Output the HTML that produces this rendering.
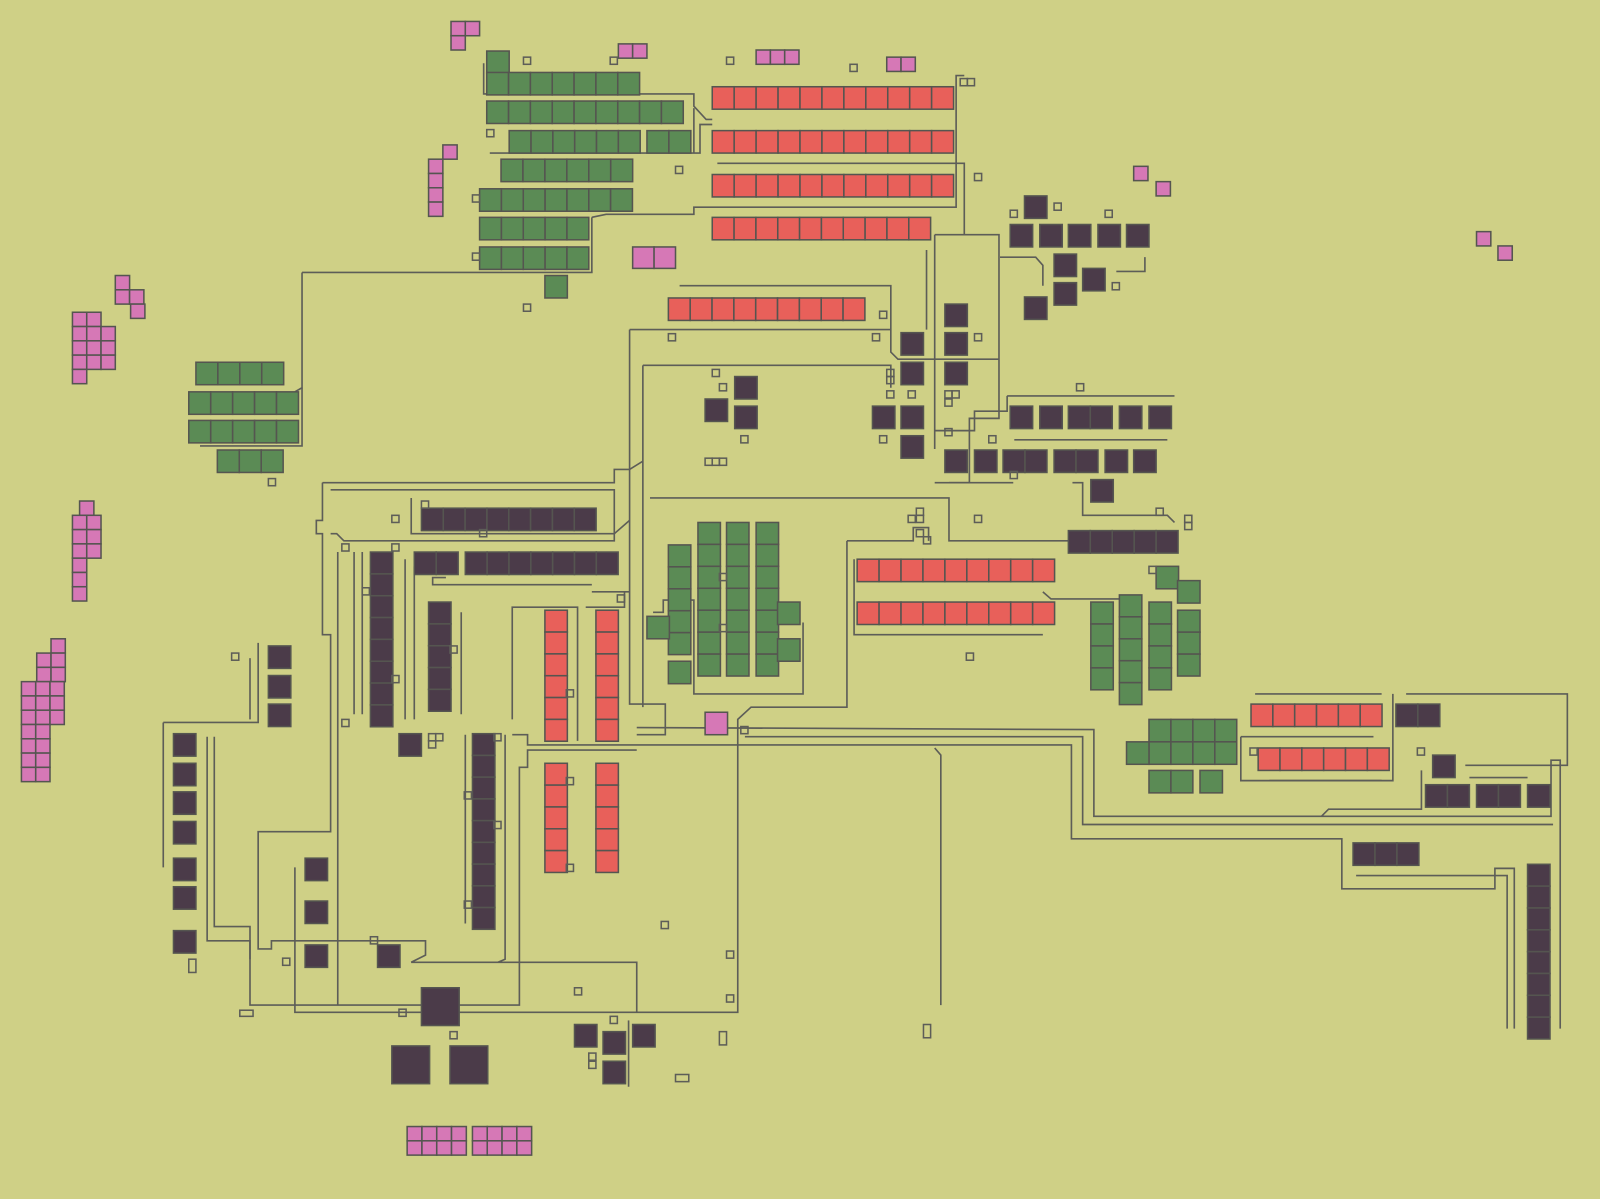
<!DOCTYPE html>
<html><head><meta charset="utf-8"><style>
html,body{margin:0;padding:0;background:#cfd086;}
svg{display:block}
</style></head><body>
<svg id="s" xmlns="http://www.w3.org/2000/svg" width="1600" height="1199" viewBox="0 0 1568 1175">
<rect width="1568" height="1175" fill="#cfd086"/>
<g id="w" fill="none" stroke="#5d5d58" stroke-width="1.6">
<polyline points="296,267 580,267 580,213"/>
<polyline points="296,267 296,380 289,384"/>
<polyline points="296,380 296,437 196,437"/>
<polyline points="474,62 474,92 680,92 680,104 692,117 698,117"/>
<polyline points="680,150 680,106"/>
<polyline points="480,150 686,150 686,122 698,122"/>
<polyline points="580,213 594,210 680,210 680,203 937,203 937,74 945,74"/>
<polyline points="703,160 945,160 945,230"/>
<polyline points="916,230 979,230 979,410 950,410 950,473 916,473"/>
<polyline points="916,230 916,440"/>
<polyline points="908,245 908,323"/>
<polyline points="666,280 873,280 873,345 880,352 979,352"/>
<polyline points="617,323 873,323"/>
<polyline points="617,323 617,690 652,690 652,720 624,720"/>
<polyline points="630,358 873,358 873,380"/>
<polyline points="630,358 630,693"/>
<polyline points="637,488 930,488 930,530 1047,530"/>
<polyline points="930,473 993,473"/>
<polyline points="830,530 830,693 736,693 723,705 723,992 289,992 289,850"/>
<polyline points="830,530 895,530 895,517 910,517 910,530"/>
<polyline points="316,473 602,473 602,460 617,460 630,452"/>
<polyline points="316,473 316,510 310,510 310,523 316,523 316,622 324,622 324,815 253,815 253,930 266,930 266,922 417,922 417,936 403,943 624,943 624,992"/>
<polyline points="324,480 602,480 602,530 337,530 330,523 324,523"/>
<polyline points="403,488 403,523 602,523 617,510"/>
<polyline points="160,708 253,708 253,630"/>
<polyline points="160,708 160,850"/>
<polyline points="203,722 203,922 245,922 245,985 509,985 509,752 517,752 517,735 624,735"/>
<polyline points="210,722 210,908 245,908 245,940"/>
<polyline points="502,705 502,595 566,595 566,726"/>
<polyline points="574,595 612,595 612,580"/>
<polyline points="580,580 617,580"/>
<polyline points="502,720 517,720 517,730 1050,730 1050,822 1315,822 1315,871 1465,871 1465,851 1484,851 1484,1008"/>
<polyline points="624,713 1072,715 1072,800 1520,800 1520,745 1529,745 1529,1008"/>
<polyline points="730,722 1061,722 1061,808 1522,808"/>
<polyline points="916,733 922,740 922,985"/>
<polyline points="1378,680 1536,680 1536,750 1436,750"/>
<polyline points="1295,800 1302,793 1393,793 1393,755"/>
<polyline points="1216,722 1216,765 1365,765 1365,680"/>
<polyline points="1329,858 1477,858 1477,1008"/>
<polyline points="1022,580 1030,587 1097,587"/>
<polyline points="837,548 837,622 1022,622"/>
<polyline points="987,388 1151,388"/>
<polyline points="987,388 987,403 955,403 955,422 916,422"/>
<polyline points="994,431 1144,431"/>
<polyline points="1051,473 1061,473 1061,505 1144,505 1151,512"/>
<polyline points="980,252 1015,252 1022,260 1022,280"/>
<polyline points="1094,266 1122,266 1122,252"/>
<polyline points="640,600 650,600 650,588 680,588 680,680 787,680 787,610"/>
<polyline points="347,541 347,700"/>
<polyline points="355,541 355,700"/>
<polyline points="397,548 397,705"/>
<polyline points="406,555 406,705"/>
<polyline points="452,600 452,700"/>
<polyline points="456,720 456,905"/>
<polyline points="495,720 495,940 488,943"/>
<polyline points="331,541 331,985"/>
<polyline points="245,645 245,705"/>
<polyline points="437,566 424,566 424,573 580,573"/>
<polyline points="1230,680 1354,680"/>
<polyline points="1244,765 1354,765"/>
<polyline points="1216,722 1346,722"/>
<polyline points="1497,762 1440,762"/>
<polyline points="616,1000 616,1065"/>
</g>
<g id="c"></g>
<g id="b" fill="none" stroke="#5d5d58" stroke-width="1.5"></g>
</svg>
<script>
var NS="http://www.w3.org/2000/svg",C=document.getElementById('c'),B=document.getElementById('b');
var G="#5b8b55",R="#e8605a",D="#4b3b49",P="#d678b6";
function r(x,y,w,h,f){var e=document.createElementNS(NS,'rect');e.setAttribute('x',x);e.setAttribute('y',y);e.setAttribute('width',w);e.setAttribute('height',h);e.setAttribute('fill',f);e.setAttribute('stroke','#555550');e.setAttribute('stroke-width','1.5');C.appendChild(e);}
function row(x,y,n,w,h,f){for(var i=0;i<n;i++)r(x+i*w,y,w,h,f);}
function col(x,y,n,w,h,f){for(var i=0;i<n;i++)r(x,y+i*h,w,h,f);}
// green top
r(477,50,22,22,G);row(477,71,7,21.4,22,G);row(477,99,9,21.4,22,G);row(499,128,6,21.4,22,G);row(634,128,2,21.5,22,G);
row(491,156,6,21.5,22,G);row(470,185,7,21.4,22,G);row(470,213,5,21.4,22,G);row(470,242,5,21.4,22,G);r(534,270,22,22,G);
// red top
row(698,85,11,21.5,22,R);row(698,128,11,21.5,22,R);row(698,171,11,21.5,22,R);row(698,213,10,21.4,22,R);row(655,292,9,21.4,22,R);
// pink
row(442,21,2,14,14,P);r(442,35,14,14,P);row(606,43,2,14,14,P);row(741,49,3,14,14,P);row(869,56,2,14,14,P);
r(434,142,14,14,P);col(420,156,4,14,14,P);row(620,242,2,21,21,P);
r(1111,163,14,14,P);r(1133,178,14,14,P);r(1447,227,14,14,P);r(1468,241,14,14,P);
r(113,270,14,14,P);row(113,284,2,14,14,P);r(128,298,14,14,P);
row(71,306,2,14,14,P);for(var k=0;k<3;k++)row(71,320+k*14,3,14,14,P);r(71,362,14,14,P);
r(78,491,14,14,P);for(k=0;k<3;k++)row(71,505+k*14,2,14,14,P);col(71,547,3,14,14,P);
r(50,626,14,14,P);row(36,640,2,14,14,P);row(36,654,2,14,14,P);for(k=0;k<3;k++)row(21,668+k*14,3,14,14,P);for(k=0;k<4;k++)row(21,710+k*14,2,14,14,P);
row(399,1104,4,14.5,14,P);row(399,1118,4,14.5,14,P);row(463,1104,4,14.5,14,P);row(463,1118,4,14.5,14,P);
r(691,698,22,22,P);
// green left
row(192,355,4,21.5,22,G);row(185,384,5,21.5,22,G);row(185,412,5,21.5,22,G);row(213,441,3,21.5,22,G);
// green center
col(655,534,5,22,21.5,G);col(684,512,7,22,21.5,G);col(712,512,7,22,21.5,G);col(741,512,7,22,21.5,G);
r(634,604,22,22,G);r(655,648,22,22,G);r(762,590,22,22,G);r(762,626,22,22,G);
// dark center
[[720,369],[691,391],[720,398],[926,298],[883,326],[926,326],[883,355],[926,355],[855,398],[883,398],[883,427],
[1004,192],[1033,249],[1061,263],[1033,277],[1004,291],[1069,470],[1404,740],[1497,769],
[263,633],[263,662],[263,690],[170,719],[170,748],[170,776],[170,805],[170,841],[170,869],[170,912],
[299,841],[299,883],[299,926],[370,926],[391,719],[563,1004],[591,1011],[620,1004],[591,1040]].forEach(function(p){r(p[0],p[1],22,22,D);});
row(990,220,1,22,22,D);row(1019,220,1,22,22,D);row(1047,220,1,22,22,D);row(1076,220,1,22,22,D);row(1104,220,1,22,22,D);
r(990,398,22,22,D);r(1019,398,22,22,D);row(1047,398,2,21.5,22,D);r(1097,398,22,22,D);r(1126,398,22,22,D);
r(926,441,22,22,D);r(955,441,22,22,D);row(983,441,2,21.5,22,D);row(1033,441,2,21.5,22,D);r(1083,441,22,22,D);r(1111,441,22,22,D);
row(1047,520,5,21.5,22,D);
row(1368,690,2,21.5,22,D);row(1397,769,2,21.5,22,D);row(1447,769,2,21.5,22,D);row(1326,826,3,21.5,22,D);col(1497,847,8,22,21.4,D);
col(363,541,8,22,21.4,D);col(420,590,5,22,21.4,D);col(463,719,9,22,21.3,D);
row(413,498,8,21.4,22,D);row(406,541,2,21.5,22,D);row(456,541,7,21.4,22,D);
r(413,968,37,37,D);r(384,1025,37,37,D);r(441,1025,37,37,D);
// red right
row(840,548,9,21.5,22,R);row(840,590,9,21.5,22,R);row(1226,690,6,21.4,22,R);row(1233,733,6,21.4,22,R);
// green right
r(1133,555,22,22,G);r(1154,569,22,22,G);col(1069,590,4,22,21.5,G);col(1097,583,5,22,21.5,G);col(1126,590,4,22,21.5,G);col(1154,598,3,22,21.5,G);
row(1126,705,4,21.5,22,G);row(1126,727,4,21.5,22,G);r(1104,727,22,22,G);row(1126,755,2,21.5,22,G);r(1176,755,22,22,G);
// red vertical
col(534,598,6,22,21.4,R);col(584,598,6,22,21.4,R);col(534,748,5,22,21.4,R);col(584,748,5,22,21.4,R);
// small outline boxes
function sb(x,y,w,h){var e=document.createElementNS(NS,'rect');e.setAttribute('x',x);e.setAttribute('y',y);e.setAttribute('width',w||7);e.setAttribute('height',h||7);B.appendChild(e);}
[[513,56],[598,56],[712,56],[833,63],[941,77],[948,77],[477,127],[662,163],[463,191],[463,248],[513,298],[955,170],[990,206],[1033,199],[1083,206],[1090,277],
[862,305],[655,327],[855,327],[955,327],[698,362],[705,376],[869,362],[869,369],[869,383],[890,383],[926,383],[933,383],[926,391],[726,427],[862,427],[926,420],[969,427],
[1055,376],[990,462],[691,449],[698,449],[705,449],[263,469],[413,491],[384,505],[470,519],[335,533],[384,533],[955,505],[1133,498],[1161,505],[1161,512],
[890,505],[898,498],[898,505],[898,519],[905,526],[1126,555],[355,576],[605,583],[705,562],[705,612],[441,633],[555,676],[384,662],[227,640],[947,640],
[335,705],[420,719],[427,719],[420,726],[484,719],[726,712],[1225,733],[1389,733],[455,776],[555,762],[484,805],[455,883],[555,847],[648,903],[712,932],
[363,918],[277,939],[563,968],[712,975],[391,989],[441,1011],[598,996],[577,1032],[577,1040]].forEach(function(p){sb(p[0],p[1]);});
sb(185,940,7,13);sb(235,990,13,6);sb(705,1011,7,13);sb(905,1004,7,13);sb(662,1053,13,7);
</script>
</body></html>
